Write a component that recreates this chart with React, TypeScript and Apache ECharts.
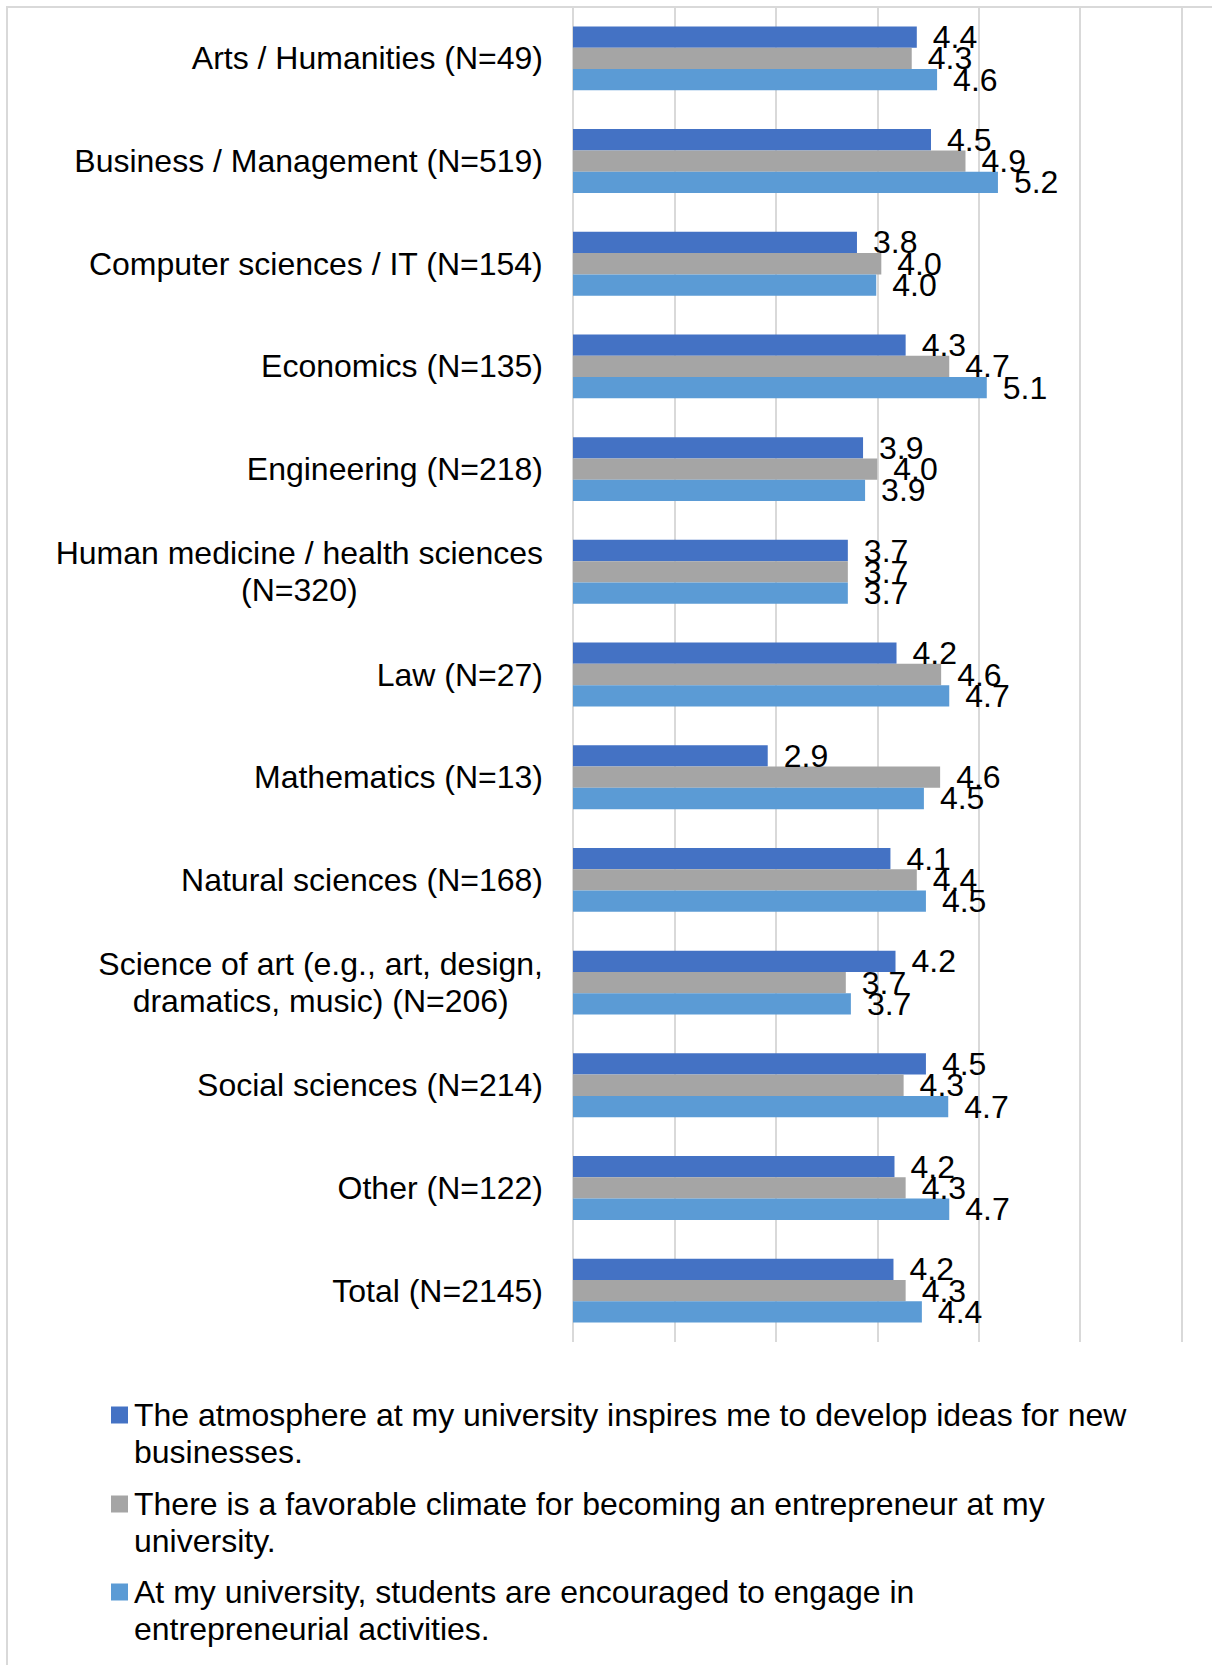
import React, { useEffect, useRef } from 'react';
import * as echarts from 'echarts';

const FONT = "'Liberation Sans', Arial, sans-serif";

const categories = [
  'Arts / Humanities (N=49)',
  'Business / Management (N=519)',
  'Computer sciences / IT (N=154)',
  'Economics (N=135)',
  'Engineering (N=218)',
  'Human medicine / health sciences\n(N=320)',
  'Law (N=27)',
  'Mathematics (N=13)',
  'Natural sciences (N=168)',
  'Science of art (e.g., art, design,\ndramatics, music) (N=206)',
  'Social sciences (N=214)',
  'Other (N=122)',
  'Total (N=2145)',
];

// mean agreement (scale 1–7)
const atmosphere = [4.39, 4.53, 3.8, 4.28, 3.86, 3.71, 4.19, 2.92, 4.13, 4.18, 4.48, 4.17, 4.16];
const climate = [4.34, 4.87, 4.04, 4.71, 4.0, 3.71, 4.63, 4.62, 4.39, 3.69, 4.26, 4.28, 4.28];
const encouraged = [4.59, 5.19, 3.99, 5.08, 3.88, 3.71, 4.71, 4.46, 4.48, 3.74, 4.7, 4.71, 4.44];

const legendLines = [
  ['The atmosphere at my university inspires me to develop ideas for new', 'businesses.'],
  ['There is a favorable climate for becoming an entrepreneur at my', 'university.'],
  ['At my university, students are encouraged to engage in', 'entrepreneurial activities.'],
];
const seriesNames = legendLines.map((l) => l.join(' '));

const colors = ['#4472C4', '#A5A5A5', '#5B9BD5'];
const axisMin = 1;
const axisMax = 7;
const axisStep = 1;

export default function App() {
  const ref = useRef<HTMLDivElement>(null);

  useEffect(() => {
    document.body.style.margin = '0';
    const chart = echarts.init(ref.current as HTMLDivElement, null, { renderer: 'svg' });
    const values = [atmosphere, climate, encouraged];
    const legendIconCenters = [1415, 1504, 1592];

    chart.setOption({
      animation: false,
      backgroundColor: '#ffffff',
      textStyle: { fontFamily: FONT },
      graphic: [
        {
          type: 'rect',
          silent: true,
          shape: { x: 7, y: 7, width: 1500, height: 1800 },
          style: { fill: 'none', stroke: '#d9d9d9', lineWidth: 2 },
        },
      ],
      grid: { left: 573, right: 30.5, top: 7, bottom: 323, containLabel: false },
      xAxis: {
        type: 'value',
        min: axisMin,
        max: axisMax,
        interval: axisStep,
        axisLabel: { show: false },
        axisLine: { show: false },
        axisTick: { show: false },
        splitLine: { show: true, lineStyle: { color: '#d9d9d9', width: 2 } },
      },
      yAxis: {
        type: 'category',
        data: categories,
        inverse: true,
        axisLine: { show: false },
        axisTick: { show: false },
        axisLabel: {
          margin: 30,
          fontSize: 32,
          lineHeight: 37,
          color: '#000',
          fontFamily: FONT,
          formatter: (v: string) => v.split('\n').map((l) => `{c|${l}}`).join('\n'),
          rich: {
            c: { align: 'center', fontSize: 32, lineHeight: 37, color: '#000', fontFamily: FONT },
          },
        },
      },
      legend: seriesNames.map((name, i) => ({
        data: [name],
        left: 111,
        top: legendIconCenters[i] - 55.5,
        padding: 0,
        orient: 'vertical',
        selectedMode: false,
        icon: 'rect',
        itemWidth: 17,
        itemHeight: 17,
        // leading empty line keeps the first text line level with the icon
        formatter: () => '\n' + legendLines[i].join('\n'),
        textStyle: {
          fontSize: 32,
          lineHeight: 37,
          color: '#000',
          fontFamily: FONT,
          padding: [0, 0, 0, 1],
        },
      })),
      series: seriesNames.map((name, i) => ({
        name,
        type: 'bar',
        data: values[i],
        barWidth: 21.3,
        barGap: '0%',
        itemStyle: { color: colors[i] },
        label: {
          show: true,
          position: 'right',
          distance: 16,
          fontSize: 32,
          color: '#000',
          fontFamily: FONT,
          formatter: (p: any) => Number(p.value).toFixed(1),
        },
      })),
    });

    return () => chart.dispose();
  }, []);

  return <div ref={ref} style={{ width: 1212, height: 1665 }} />;
}
